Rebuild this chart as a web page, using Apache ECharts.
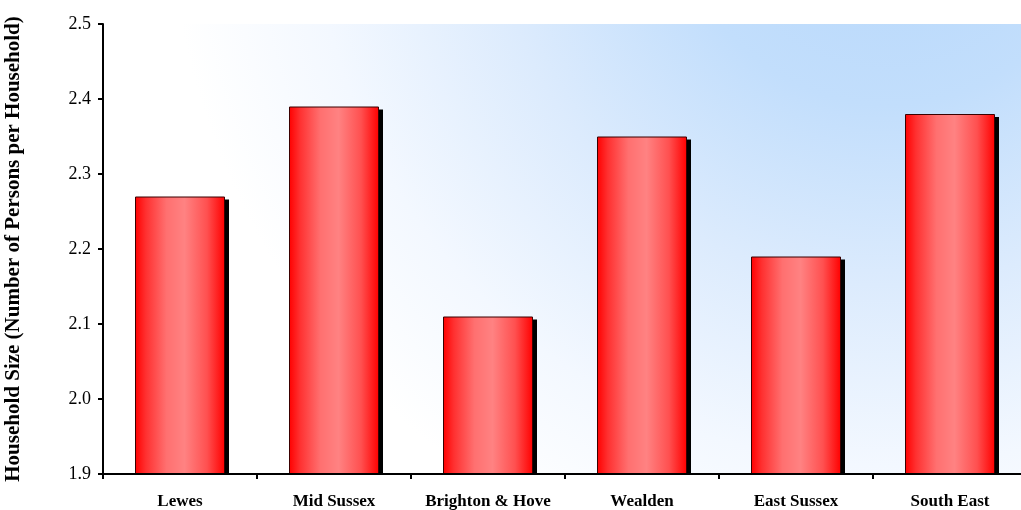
<!DOCTYPE html>
<html>
<head>
<meta charset="utf-8">
<script src="https://cdn.jsdelivr.net/npm/echarts@6/dist/echarts.min.js"></script>
<style>
  html, body { margin: 0; padding: 0; background: #fff; }
  #chart { width: 1021px; height: 510px; }
</style>
</head>
<body>
<div id="chart"></div>
<script>
// Average household size by area
const categories = ['Lewes', 'Mid Sussex', 'Brighton & Hove', 'Wealden', 'East Sussex', 'South East'];
const householdSize = [2.27, 2.39, 2.11, 2.35, 2.19, 2.38];
const yMin = 1.9;
const yMax = 2.5;
const yStep = 0.1;

const BAR_W = 90;
const SHADOW_DX = 4;
const SHADOW_DY = 3;

const chart = echarts.init(document.getElementById('chart'), null, { renderer: 'canvas' });

const serif = '"Liberation Serif", "Times New Roman", serif';

// Solid drop shadow behind each column, offset right and down, stopping at the baseline
function renderShadow(params, api) {
  const top = api.coord([api.value(0), api.value(1)]);
  const base = api.coord([api.value(0), yMin]);
  const left = top[0] - BAR_W / 2 + SHADOW_DX;
  const y0 = top[1] + SHADOW_DY;
  return {
    type: 'rect',
    shape: { x: left, y: y0, width: BAR_W, height: base[1] - y0 },
    style: { fill: '#000' }
  };
}

chart.setOption({
  animation: false,
  grid: {
    left: 103,
    top: 24,
    width: 924,
    height: 450,
    outerBoundsMode: 'none',
    containLabel: false,
    show: true,
    borderWidth: 0,
    backgroundColor: {
      type: 'radial', x: 0.85, y: -0.3, r: 1.6,
      colorStops: [
        { offset: 0, color: '#b6d7fb' },
        { offset: 0.3, color: '#c2defc' },
        { offset: 0.55, color: '#dcebfd' },
        { offset: 0.8, color: '#f3f8ff' },
        { offset: 1, color: '#ffffff' }
      ]
    }
  },
  xAxis: {
    type: 'category',
    data: categories,
    axisLine: { lineStyle: { color: '#000', width: 2 } },
    axisTick: { show: true, interval: 0, length: 5, alignWithLabel: false, lineStyle: { color: '#000', width: 2 } },
    axisLabel: {
      interval: 0, hideOverlap: false,
      color: '#000', fontFamily: serif, fontWeight: 'bold', fontSize: 17, margin: 19
    },
    splitLine: { show: false },
    z: 5
  },
  yAxis: {
    type: 'value',
    min: yMin,
    max: yMax,
    interval: yStep,
    name: 'Household Size (Number of Persons per Household)',
    nameLocation: 'middle',
    nameGap: 79,
    nameRotate: 90,
    nameTextStyle: { color: '#000', fontFamily: serif, fontWeight: 'bold', fontSize: 21 },
    axisLine: { show: true, lineStyle: { color: '#000', width: 2 } },
    axisTick: { show: true, length: 5, lineStyle: { color: '#000', width: 2 } },
    axisLabel: {
      color: '#000', fontFamily: serif, fontSize: 18, margin: 12,
      formatter: v => v.toFixed(1)
    },
    splitLine: { show: false },
    z: 5
  },
  series: [
    {
      type: 'custom',
      renderItem: renderShadow,
      data: householdSize.map((v, i) => [i, v]),
      encode: { x: 0, y: 1 },
      z: 1,
      silent: true
    },
    {
      type: 'bar',
      data: householdSize,
      barWidth: BAR_W,
      z: 2,
      itemStyle: {
        color: {
          type: 'linear', x: 0, y: 0, x2: 1, y2: 0,
          colorStops: [
            { offset: 0, color: '#ff0000' },
            { offset: 0.12, color: '#ff3030' },
            { offset: 0.35, color: '#ff7070' },
            { offset: 0.55, color: '#ff8282' },
            { offset: 0.8, color: '#ff5050' },
            { offset: 1, color: '#ff0000' }
          ]
        },
        borderColor: '#3a0000',
        borderWidth: 1
      }
    }
  ]
});
</script>
</body>
</html>
